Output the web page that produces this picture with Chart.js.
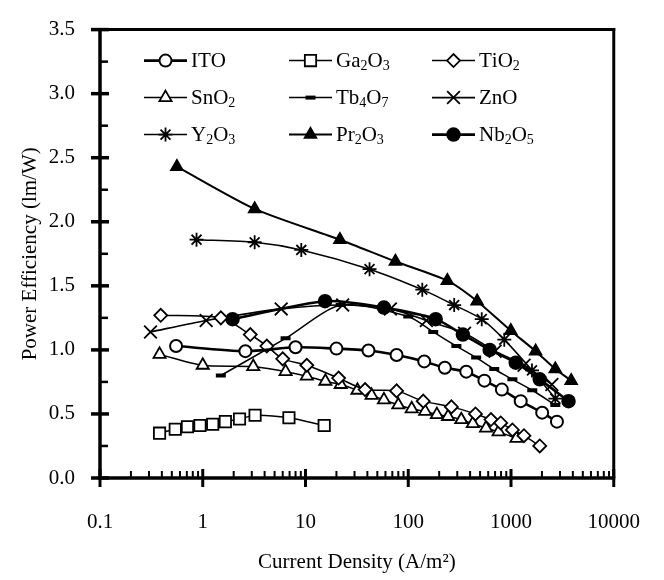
<!DOCTYPE html>
<html>
<head>
<meta charset="utf-8">
<script src="https://cdn.jsdelivr.net/npm/chart.js@4.4.1/dist/chart.umd.min.js"></script>
<style>
html,body{margin:0;padding:0;background:#fff;}
#wrap{width:664px;height:580px;}
</style>
</head>
<body>
<div id="wrap"><canvas id="c" width="664" height="580"></canvas></div>
<script>
// ---- tick labels ----
const X_TICKS = [0.1, 1, 10, 100, 1000, 10000];
const Y_TICKS = [0, 0.5, 1, 1.5, 2, 2.5, 3, 3.5];

// ---- series names (digits rendered as subscripts) ----
const NAMES = ['ITO', 'Ga2O3', 'TiO2', 'SnO2', 'Tb4O7', 'ZnO', 'Y2O3', 'Pr2O3', 'Nb2O5'];

// ---- data: current density (A/m^2) and power efficiency (lm/W) ----
const ITO_J  = [0.55, 2.6, 8.0, 20, 41, 77, 143, 227, 367, 551, 815, 1243, 2011, 2800];
const ITO_PE = [1.03, 0.99, 1.02, 1.01, 0.995, 0.96, 0.91, 0.86, 0.83, 0.76, 0.69, 0.60, 0.51, 0.44];

const GA2O3_J  = [0.38, 0.54, 0.71, 0.94, 1.25, 1.66, 2.28, 3.23, 6.9, 15.2];
const GA2O3_PE = [0.35, 0.38, 0.40, 0.41, 0.42, 0.44, 0.46, 0.49, 0.47, 0.41];

const TIO2_J  = [0.39, 1.5, 2.9, 4.2, 6.0, 10.3, 21, 38, 77, 140, 263, 451, 638, 794, 1032, 1337, 1905];
const TIO2_PE = [1.27, 1.25, 1.12, 1.03, 0.93, 0.88, 0.78, 0.69, 0.68, 0.60, 0.555, 0.50, 0.456, 0.43, 0.375, 0.33, 0.25];

const SNO2_J  = [0.38, 1.0, 3.1, 6.4, 10.3, 15.6, 22, 32, 44, 58, 80, 108, 146, 190, 244, 328, 425, 571, 757, 1130];
const SNO2_PE = [0.965, 0.88, 0.87, 0.83, 0.795, 0.755, 0.73, 0.685, 0.645, 0.61, 0.57, 0.54, 0.52, 0.495, 0.48, 0.455, 0.425, 0.39, 0.36, 0.31];

const TB4O7_J  = [1.5, 6.4, 22, 100, 175, 294, 458, 687, 1032, 1610, 2700];
const TB4O7_PE = [0.80, 1.09, 1.35, 1.26, 1.14, 1.03, 0.94, 0.85, 0.77, 0.685, 0.57];

const ZNO_J  = [0.31, 1.08, 5.8, 23, 67, 150, 353, 700, 1340, 2500];
const ZNO_PE = [1.14, 1.23, 1.32, 1.35, 1.32, 1.23, 1.13, 0.99, 0.88, 0.73];

const Y2O3_J  = [0.87, 3.2, 9.1, 42, 137, 280, 519, 860, 1600, 2700];
const Y2O3_PE = [1.86, 1.84, 1.78, 1.63, 1.47, 1.35, 1.24, 1.08, 0.84, 0.62];

const PR2O3_J  = [0.56, 3.2, 21.6, 75, 240, 468, 995, 1735, 2700, 3850];
const PR2O3_PE = [2.43, 2.10, 1.86, 1.69, 1.54, 1.38, 1.15, 0.99, 0.85, 0.76];

const NB2O5_J  = [1.95, 15.5, 58, 185, 340, 620, 1112, 1905, 3630];
const NB2O5_PE = [1.24, 1.38, 1.33, 1.24, 1.12, 1.00, 0.90, 0.77, 0.60];

const SERIES_J  = [ITO_J, GA2O3_J, TIO2_J, SNO2_J, TB4O7_J, ZNO_J, Y2O3_J, PR2O3_J, NB2O5_J];
const SERIES_PE = [ITO_PE, GA2O3_PE, TIO2_PE, SNO2_PE, TB4O7_PE, ZNO_PE, Y2O3_PE, PR2O3_PE, NB2O5_PE];

// ---- styles ----
const STYLES = [
  {ps:'circle',   r:6,   fill:'#fff', bw:2,   lw:2.6},
  {ps:'rect',     r:8,   fill:'#fff', bw:1.8, lw:1.5},
  {ps:'rectRot',  r:6.5, fill:'#fff', bw:1.8, lw:1.5},
  {ps:'triangle', r:7,   fill:'#fff', bw:1.8, lw:1.5},
  {ps:'line',     r:5,   fill:'#000', bw:4,   lw:1.5},
  {ps:'crossRot', r:9,   fill:'#000', bw:1.8, lw:1.6},
  {ps:'star',     r:7,   fill:'#000', bw:1.8, lw:1.5},
  {ps:'triangle', r:7,   fill:'#000', bw:1.5, lw:2},
  {ps:'circle',   r:6.5, fill:'#000', bw:1.5, lw:2.6}
];

const FONT = 'Liberation Serif, Times New Roman, serif';

const datasets = NAMES.map((name, i) => {
  const s = STYLES[i];
  return {
    label: name,
    data: SERIES_J[i].map((j, k) => ({x: j, y: SERIES_PE[i][k]})),
    borderColor: '#000',
    backgroundColor: '#000',
    borderWidth: s.lw,
    tension: 0.25,
    pointStyle: s.ps,
    pointRadius: s.r,
    pointBackgroundColor: s.fill,
    pointBorderColor: '#000',
    pointBorderWidth: s.bw,
    fill: false
  };
});

function line(ctx, x1, y1, x2, y2) {
  ctx.beginPath(); ctx.moveTo(x1, y1); ctx.lineTo(x2, y2); ctx.stroke();
}

const framePlugin = {
  id: 'frame',
  afterDatasetsDraw(chart) {
    const {ctx, chartArea: {left, right, top, bottom}, scales: {x, y}} = chart;
    ctx.save();
    ctx.strokeStyle = '#000';
    ctx.lineCap = 'butt';
    ctx.lineWidth = 3;
    line(ctx, right, top - 1.5, right, bottom);
    line(ctx, left, top, right + 1.5, top);
    ctx.lineWidth = 3.5;
    line(ctx, left, top - 1.5, left, bottom + 2);
    line(ctx, left - 2, bottom, right + 1.5, bottom);
    // y major ticks
    ctx.lineWidth = 3.5;
    Y_TICKS.forEach(v => { const py = y.getPixelForValue(v); line(ctx, left - 9, py, left + 9, py); });
    // y minor ticks
    ctx.lineWidth = 2.5;
    for (let k = 0; k < Y_TICKS.length - 1; k++) {
      const py = y.getPixelForValue((Y_TICKS[k] + Y_TICKS[k + 1]) / 2);
      line(ctx, left, py, left + 8, py);
    }
    // x major ticks
    ctx.lineWidth = 3;
    X_TICKS.forEach(v => { const px = x.getPixelForValue(v); line(ctx, px, bottom - 9, px, bottom + 9); });
    // x minor ticks
    ctx.lineWidth = 2;
    for (let d = 0; d < X_TICKS.length - 1; d++) {
      for (let m = 2; m <= 9; m++) {
        const px = x.getPixelForValue(X_TICKS[d] * m);
        line(ctx, px, bottom, px, bottom - 7);
      }
    }
    ctx.restore();
  }
};

function drawSubText(ctx, text, x, y) {
  let cx = x;
  for (const ch of text) {
    if (/[0-9]/.test(ch)) {
      ctx.font = '14px ' + FONT;
      ctx.fillText(ch, cx, y + 5);
    } else {
      ctx.font = '21px ' + FONT;
      ctx.fillText(ch, cx, y);
    }
    cx += ctx.measureText(ch).width;
  }
}

const legendPlugin = {
  id: 'insideLegend',
  afterDraw(chart) {
    const {ctx, chartArea: {left, top}} = chart;
    const colX = [44, 189, 332];
    const rowY = [31, 68, 105];
    const lineLen = 43;
    ctx.save();
    chart.data.datasets.forEach((ds, i) => {
      const s = STYLES[i];
      const x0 = left + colX[i % 3];
      const y0 = top + rowY[Math.floor(i / 3)];
      ctx.strokeStyle = '#000';
      ctx.lineWidth = s.lw;
      line(ctx, x0, y0, x0 + lineLen, y0);
      ctx.fillStyle = s.fill;
      ctx.strokeStyle = '#000';
      ctx.lineWidth = s.bw;
      if (Chart.helpers && Chart.helpers.drawPoint) {
        Chart.helpers.drawPoint(ctx, {pointStyle: s.ps, radius: s.r, rotation: 0, borderWidth: s.bw}, x0 + lineLen / 2, y0);
      }
      ctx.fillStyle = '#000';
      ctx.textBaseline = 'middle';
      ctx.textAlign = 'left';
      drawSubText(ctx, NAMES[i], x0 + lineLen + 4, y0 + 1);
    });
    ctx.restore();
  }
};

new Chart(document.getElementById('c'), {
  type: 'line',
  data: {datasets},
  options: {
    responsive: false,
    animation: false,
    devicePixelRatio: 1,
    layout: {padding: {top: 20, right: 45, left: 0, bottom: 0}},
    plugins: {legend: {display: false}, tooltip: {enabled: false}},
    scales: {
      x: {
        type: 'logarithmic',
        min: 0.1, max: 10000,
        afterBuildTicks: s => { s.ticks = X_TICKS.map(v => ({value: v})); },
        afterFit: s => { s.height = 102; },
        grid: {display: false},
        border: {display: false},
        ticks: {
          color: '#000', autoSkip: false, maxRotation: 0, padding: 24,
          font: {family: FONT, size: 21},
          callback: v => String(v)
        },
        title: {
          display: true, text: 'Current Density (A/m²)', color: '#000',
          font: {family: FONT, size: 21}, padding: {top: 0, bottom: 5}
        }
      },
      y: {
        min: 0, max: 3.5,
        afterBuildTicks: s => { s.ticks = Y_TICKS.map(v => ({value: v})); },
        afterFit: s => { s.width = 100; },
        grid: {display: false},
        border: {display: false},
        ticks: {
          color: '#000', padding: 17,
          font: {family: FONT, size: 21},
          callback: v => Number(v).toFixed(1)
        },
        title: {
          display: true, text: 'Power Efficiency (lm/W)', color: '#000',
          font: {family: FONT, size: 21}, padding: {top: 18, bottom: 0}
        }
      }
    }
  },
  plugins: [framePlugin, legendPlugin]
});
</script>
</body>
</html>
